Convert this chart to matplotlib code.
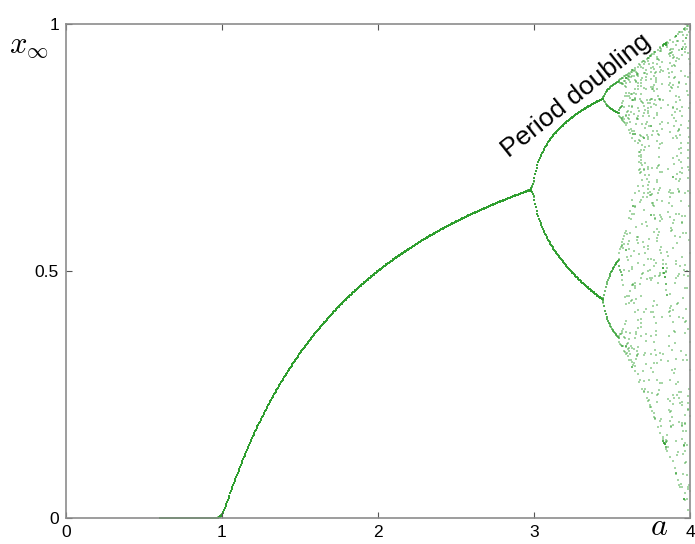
import numpy as np
import matplotlib
matplotlib.use("Agg")
import matplotlib.pyplot as plt

# Logistic map parameters (bifurcation diagram)
a_start = 0.6
a_end = 4.0
n_a = 700
x_init = 0.3
n_transient = 120
n_keep = 10

x_ticks = [0, 1, 2, 3, 4]
x_ticklabels = ["0", "1", "2", "3", "4"]
y_ticks = [0, 0.5, 1]
y_ticklabels = ["0", "0.5", "1"]
annotation = "Period doubling"

a_vals = np.linspace(a_start, a_end, n_a)
x = np.full(n_a, x_init)
for _ in range(n_transient):
    x = a_vals * x * (1 - x)
A, X = [], []
for _ in range(n_keep):
    x = a_vals * x * (1 - x)
    A.append(a_vals.copy())
    X.append(x.copy())
A = np.concatenate(A)
X = np.concatenate(X)

plt.rcParams['font.family'] = ['Liberation Sans', 'DejaVu Sans']
plt.rcParams['mathtext.fontset'] = 'cm'

fig = plt.figure(figsize=(6.95, 5.44), dpi=100)
ax = fig.add_axes([66/695, 26/544, 624/695, 494/544])
ax.scatter(A, X, s=0.6, c='#2e9e2e', marker='s', linewidths=0, alpha=0.42)
ax.set_xlim(0, 4)
ax.set_ylim(0, 1)
ax.set_xticks(x_ticks)
ax.set_xticklabels(x_ticklabels)
ax.set_yticks(y_ticks)
ax.set_yticklabels(y_ticklabels)
for s in ax.spines.values():
    s.set_color('#8c8c8c')
    s.set_linewidth(1.2)
ax.tick_params(direction='in', length=4, color='#555555', labelsize=12.5,
               top=True, right=True, pad=5)
ax.text(3.27, 0.855, annotation, rotation=38.5, ha='center', va='center',
        fontsize=19, color='black')
fig.text(29/695, 1 - 45/544, r'$x_\infty$', fontsize=22, ha='center', va='center')
fig.text(659/695, 1 - 527/544, r'$a$', fontsize=23, ha='center', va='center')
fig.savefig('out.png', dpi=100)
